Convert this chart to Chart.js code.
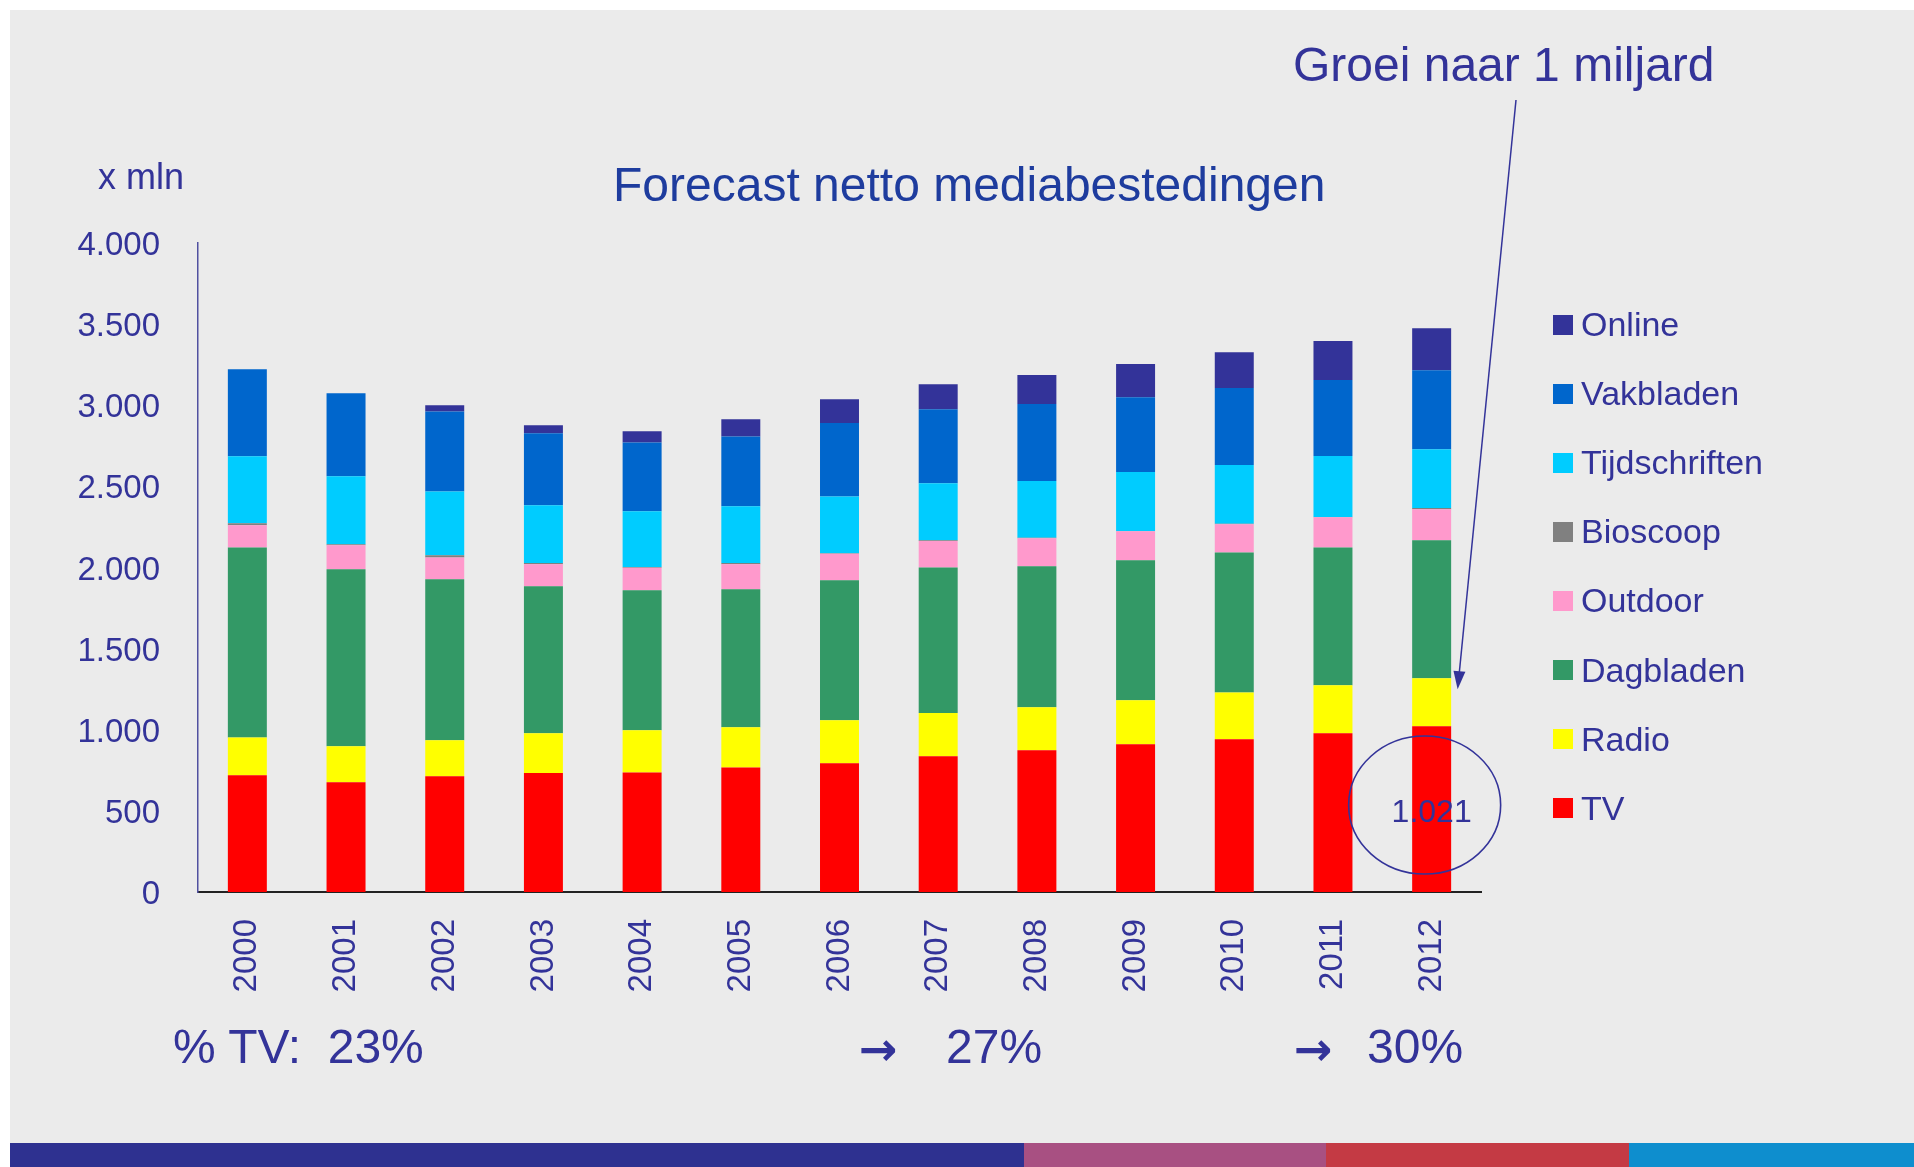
<!DOCTYPE html>
<html>
<head>
<meta charset="utf-8">
<script src="https://cdn.jsdelivr.net/npm/chart.js@4/dist/chart.umd.min.js"></script>
<style>
  html, body { margin: 0; padding: 0; background: #fff; }
  body { width: 1914px; height: 1167px; position: relative; overflow: hidden; font-family: "Liberation Sans", Arial, sans-serif; color: #333399; }
  #bg { position: absolute; left: 10px; top: 10px; right: 0; bottom: 0; background: #ebebeb; }
  #wrap { position: absolute; left: 0; top: 0; width: 1914px; height: 1167px; }
  .txt { position: absolute; white-space: pre; line-height: 1; }
  #title { left: 613px; top: 161px; font-size: 48px; color: #1e3c9e; }
  #callout { left: 1293px; top: 41px; font-size: 48px; }
  #unit { left: 98px; top: 159px; font-size: 36px; }
  .pct { top: 1023px; font-size: 48px; }
  .arrow { top: 1026px; font-size: 46px; font-family: "DejaVu Sans", sans-serif; font-weight: bold; }
  #legend { position: absolute; left: 1553px; top: 290px; }
  .item { height: 69.1px; display: flex; align-items: center; font-size: 34px; }
  .item span.box { width: 20px; height: 20px; margin-right: 8px; }
  .band { position: absolute; top: 1143px; height: 24px; }
</style>
</head>
<body>
<div id="bg"></div>
<div class="band" style="left:10px;width:1014px;background:#2e3190"></div>
<div class="band" style="left:1024px;width:302px;background:#a85082"></div>
<div class="band" style="left:1326px;width:303px;background:#c43a44"></div>
<div class="band" style="left:1629px;width:285px;background:#0e8ece"></div>
<div id="wrap"><canvas id="mediaChart"></canvas></div>
<div class="txt" id="title">Forecast netto mediabestedingen</div>
<div class="txt" id="callout">Groei naar 1 miljard</div>
<div class="txt" id="unit">x mln</div>
<div class="txt pct" style="left:173px">% TV:  23%</div>
<div class="txt arrow" style="left:859px">&#8594;</div>
<div class="txt pct" style="left:946px">27%</div>
<div class="txt arrow" style="left:1294px">&#8594;</div>
<div class="txt pct" style="left:1367px">30%</div>
<div id="legend"></div>
<script>
// Netto mediabestedingen x mln, 2000-2012
const years = ['2000', '2001', '2002', '2003', '2004', '2005', '2006', '2007', '2008', '2009', '2010', '2011', '2012'];
const tv            = [720, 676, 713, 733, 737, 768, 794, 836, 874, 911, 942, 979, 1021];
const radio         = [233, 222, 222, 246, 260, 247, 265, 267, 264, 271, 288, 295, 297];
const dagbladen     = [1171, 1091, 993, 905, 863, 851, 862, 897, 869, 862, 863, 850, 850];
const outdoor       = [136, 148, 134, 136, 138, 154, 163, 163, 174, 179, 174, 185, 191];
const bioscoop      = [13, 6, 13, 7, 5, 7, 4, 5, 2, 2, 2, 2, 7];
const tijdschriften = [412, 419, 394, 356, 343, 350, 350, 352, 350, 363, 363, 376, 363];
const vakbladen     = [537, 512, 493, 445, 425, 431, 452, 455, 475, 462, 475, 469, 486];
const online        = [0, 0, 38, 48, 68, 106, 147, 154, 178, 205, 220, 240, 259];
const yTicks = [0, 500, 1000, 1500, 2000, 2500, 3000, 3500, 4000];
const tvLabel = '1.021';

const navy = '#333399';
const fmt = v => v >= 1000 ? Math.floor(v / 1000) + '.' + String(v % 1000).padStart(3, '0') : String(v);

const ds = (label, data, color) => ({
  label: label,
  data: data,
  backgroundColor: color,
  borderWidth: 0,
  barPercentage: 0.395,
  categoryPercentage: 1,
});

// circle round the 2012 TV value and the arrow from the callout
const annotations = {
  id: 'annotations',
  afterDatasetsDraw(chart) {
    const { ctx, scales: { x, y } } = chart;
    const cx = x.getPixelForValue(years.length - 1);
    ctx.save();
    ctx.strokeStyle = navy;
    ctx.fillStyle = navy;
    ctx.lineWidth = 1.6;
    ctx.beginPath();
    ctx.ellipse(cx - 7, y.getPixelForValue(536), 76, 69, 0, 0, Math.PI * 2);
    ctx.stroke();
    ctx.font = '32px "Liberation Sans", Arial, sans-serif';
    ctx.textAlign = 'center';
    ctx.textBaseline = 'middle';
    ctx.fillText(tvLabel, cx, y.getPixelForValue(488));

    const x0 = 1516, y0 = 100;
    const x1 = cx + 26, y1 = y.getPixelForValue(1250);
    const ang = Math.atan2(y1 - y0, x1 - x0);
    ctx.lineWidth = 1.5;
    ctx.beginPath();
    ctx.moveTo(x0, y0);
    ctx.lineTo(x1 - 14 * Math.cos(ang), y1 - 14 * Math.sin(ang));
    ctx.stroke();
    ctx.beginPath();
    ctx.moveTo(x1, y1);
    ctx.lineTo(x1 - 18 * Math.cos(ang) + 6 * Math.sin(ang), y1 - 18 * Math.sin(ang) - 6 * Math.cos(ang));
    ctx.lineTo(x1 - 18 * Math.cos(ang) - 6 * Math.sin(ang), y1 - 18 * Math.sin(ang) + 6 * Math.cos(ang));
    ctx.closePath();
    ctx.fill();
    ctx.restore();
  }
};

const ctx = document.getElementById('mediaChart').getContext('2d');
const chart = new Chart(ctx, {
  type: 'bar',
  data: {
    labels: years,
    datasets: [
      ds('TV', tv, '#ff0000'),
      ds('Radio', radio, '#ffff00'),
      ds('Dagbladen', dagbladen, '#339966'),
      ds('Outdoor', outdoor, '#ff99cc'),
      ds('Bioscoop', bioscoop, '#808080'),
      ds('Tijdschriften', tijdschriften, '#00ccff'),
      ds('Vakbladen', vakbladen, '#0066cc'),
      ds('Online', online, '#333399'),
    ],
  },
  options: {
    responsive: true,
    maintainAspectRatio: false,
    animation: false,
    layout: {
      padding: { top: 243, right: 433, bottom: 0, left: 0 }
    },
    plugins: {
      legend: { display: false },
      tooltip: { enabled: false },
    },
    scales: {
      x: {
        stacked: true,
        grid: { display: false, drawTicks: false },
        border: { color: '#222', width: 2 },
        ticks: {
          color: navy,
          minRotation: 90,
          maxRotation: 90,
          padding: 27,
          font: { family: '"Liberation Sans", Arial, sans-serif', size: 33 },
        },
        afterFit: scale => { scale.height = 275; },
      },
      y: {
        stacked: true,
        min: 0,
        max: 4000,
        afterBuildTicks: scale => { scale.ticks = yTicks.map(v => ({ value: v })); },
        grid: { display: false, drawTicks: false },
        border: { color: '#5050a0', width: 1.5 },
        ticks: {
          color: navy,
          padding: 38,
          labelOffset: 3,
          font: { family: '"Liberation Sans", Arial, sans-serif', size: 33 },
          callback: v => fmt(v),
        },
        afterFit: scale => { scale.width = 198; },
      },
    },
  },
  plugins: [annotations],
});

// legend, top to bottom in reverse stacking order
const legend = document.getElementById('legend');
chart.data.datasets.slice().reverse().forEach(d => {
  const row = document.createElement('div');
  row.className = 'item';
  row.innerHTML = '<span class="box" style="background:' + d.backgroundColor + '"></span>' + d.label;
  legend.appendChild(row);
});
</script>
</body>
</html>
